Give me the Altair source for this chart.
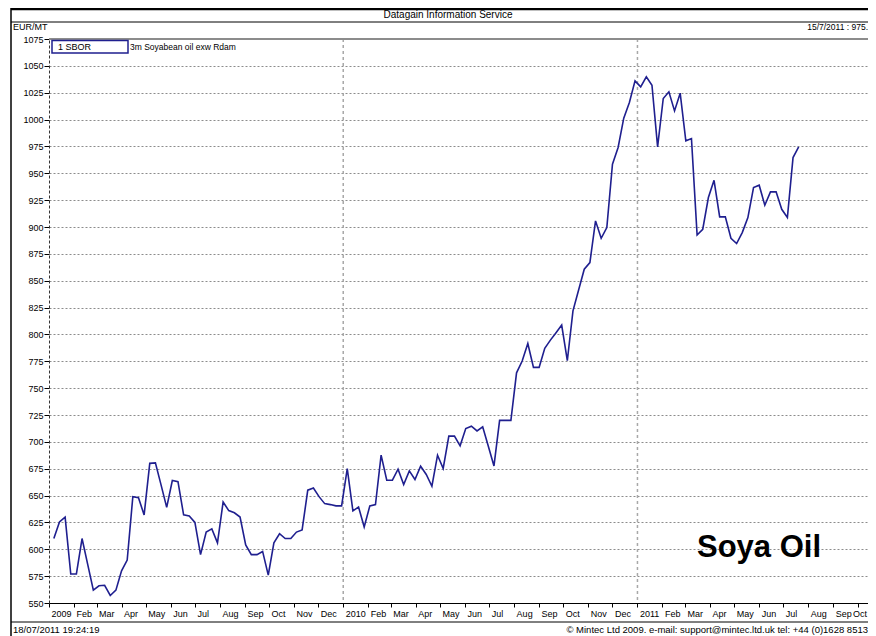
import altair as alt
import pandas as pd

# ---------------- data ----------------
start_date = "2009-01-07"          # first weekly observation
prices = [
    610, 625.5, 630, 577, 577, 610, 586, 562, 566, 566.5,
    557, 562, 580, 590, 649, 648, 632, 680, 680.4, 660,
    639, 664, 663, 632, 631, 625, 595, 616, 619, 606,
    644, 636, 634, 630, 604, 595, 595, 598, 576, 606,
    614.5, 610, 610, 616, 618, 655, 657, 649, 642.5, 641.6,
    640.4, 640.4, 675, 635.7, 639.4, 620.8, 640.4, 641.6, 687.6, 664.3,
    664.3, 674.5, 660.2, 673, 665, 677.3, 669.6, 658.7, 687.6, 675.2,
    705.3, 705.3, 696.3, 712.4, 714.6, 710.2, 714, 696, 677.6, 720,
    720, 720, 764.3, 775.2, 791.6, 769.3, 769.3, 787, 794.7, 801.6,
    808.7, 775.5, 822, 841.3, 860.7, 866.9, 905.7, 889.5, 899.5, 958.4,
    974, 1001.3, 1015.9, 1036, 1030.4, 1039.8, 1032, 974.6, 1019.6, 1025.8,
    1008.1, 1024.6, 980.2, 982.3, 892.6, 897.9, 927.4, 943.5, 909.4, 909.4,
    889.5, 884.6, 894.8, 908.8, 936.7, 938.9, 920.3, 932.7, 932.7, 916.5,
    908.8, 964.6, 974.6,
]
y_ticks = list(range(550, 1076, 25))
year_lines = ["2010-01-01", "2011-01-01"]
header_title = "Datagain Information Service"
unit_label = "EUR/MT"
last_value_label = "15/7/2011 :  975."
legend_code = "1 SBOR"
legend_name = "3m Soyabean oil exw Rdam"
footer_left = "18/07/2011 19:24:19"
footer_right = "\u00a9 Mintec Ltd 2009. e-mail: support@mintec.ltd.uk tel: +44 (0)1628 8513"
big_label = "Soya Oil"

# ---------------- layout / style ----------------
W, H = 819, 564
NAVY = "#1f1f8f"
FONT = "Liberation Sans"

dates = pd.date_range(start_date, periods=len(prices), freq="7D")
df = pd.DataFrame({"date": dates, "price": prices})

last_label_test = "year(datum.value) == 2011 && month(datum.value) == 9"

x_enc = alt.X(
    "date:T",
    scale=alt.Scale(domain=[alt.DateTime(year=2009, month=1, date=1),
                            alt.DateTime(year=2011, month=10, date=14)]),
    axis=alt.Axis(
        title=None,
        tickCount={"interval": "month", "step": 1},
        labelExpr="month(datum.value) == 0 ? timeFormat(datum.value, '%Y') : timeFormat(datum.value, '%b')",
        labelAlign="left",
        labelOffset={"condition": {"test": last_label_test, "value": -5}, "value": 2},
        labelBaseline="top", labelPadding=2,
        labelFlush=False, labelOverlap=False, labelBound=False,
        tickSize=4, tickColor="black", domainColor="black", domainWidth=1,
        grid=False, labelFont=FONT, labelFontSize=9, labelColor="black",
    ),
)
y_enc = alt.Y(
    "price:Q",
    scale=alt.Scale(domain=[550, 1075], nice=False, zero=False),
    axis=alt.Axis(
        title=None, values=y_ticks, format="d", grid=True, gridDash=[2, 2],
        gridColor="#8c8c8c", gridWidth=1, tickSize=5, tickColor="black",
        labelPadding=1, domainDash=[3, 2], domainColor="#333333",
        labelFont=FONT, labelFontSize=9, labelColor="black",
    ),
)

line = alt.Chart(df).mark_line(color=NAVY, strokeWidth=1.6).encode(x=x_enc, y=y_enc)

years = alt.Chart(pd.DataFrame({"date": pd.to_datetime(year_lines)})).mark_rule(
    color="#a8a8a8", strokeDash=[3, 3], strokeWidth=1.5
).encode(x=alt.X("date:T"))


def one():
    return pd.DataFrame({"a": [0]})


def hline(y, x1, x2, color="black", w=1.0):
    return alt.Chart(one()).mark_rule(color=color, strokeWidth=w).encode(
        x=alt.value(x1), x2=alt.value(x2), y=alt.value(y))


def vline(x, y1, y2, color="black", w=1.0):
    return alt.Chart(one()).mark_rule(color=color, strokeWidth=w).encode(
        x=alt.value(x), y=alt.value(y1), y2=alt.value(y2))


def txt(s, x, y, size=10, align="left", font=FONT, weight="normal", baseline="middle"):
    return alt.Chart(pd.DataFrame({"t": [s]})).mark_text(
        align=align, baseline=baseline, font=font, fontSize=size,
        fontWeight=weight, color="black"
    ).encode(x=alt.value(x), y=alt.value(y), text="t:N")


legend_box = alt.Chart(one()).mark_rect(
    fill="white", stroke=NAVY, strokeWidth=1.5
).encode(x=alt.value(3), x2=alt.value(79), y=alt.value(1.5), y2=alt.value(14))

chart = alt.layer(
    years,
    hline(0, 0, W, color="#8c8c8c", w=2),
    line,
    # frame
    vline(-38, -31, 597, w=1.5),
    hline(-30, -38, W, w=2.5),
    hline(-17, -38, W, w=1),
    hline(583, -38, W, w=1),
    # header texts
    txt(header_title, 399, -24, size=10, align="center"),
    txt(unit_label, -36, -12, size=9),
    txt(last_value_label, W, -12, size=8.5, align="right"),
    # legend
    legend_box,
    txt(legend_code, 9, 8, size=9),
    txt(legend_name, 81, 8, size=8.5),
    # footer
    txt(footer_left, -36, 591, size=9.5),
    txt(footer_right, W, 591, size=9.5, align="right"),
    # big label
    txt(big_label, 648, 518, size=31, weight="bold", baseline="alphabetic"),
).properties(
    width=W, height=H,
    autosize=alt.AutoSizeParams(type="none"),
    padding={"left": 41, "top": 31, "right": 0, "bottom": 33},
    background="white",
).configure_view(strokeWidth=0)

chart.save("out.html", embed_options={"renderer": "svg", "actions": False})
